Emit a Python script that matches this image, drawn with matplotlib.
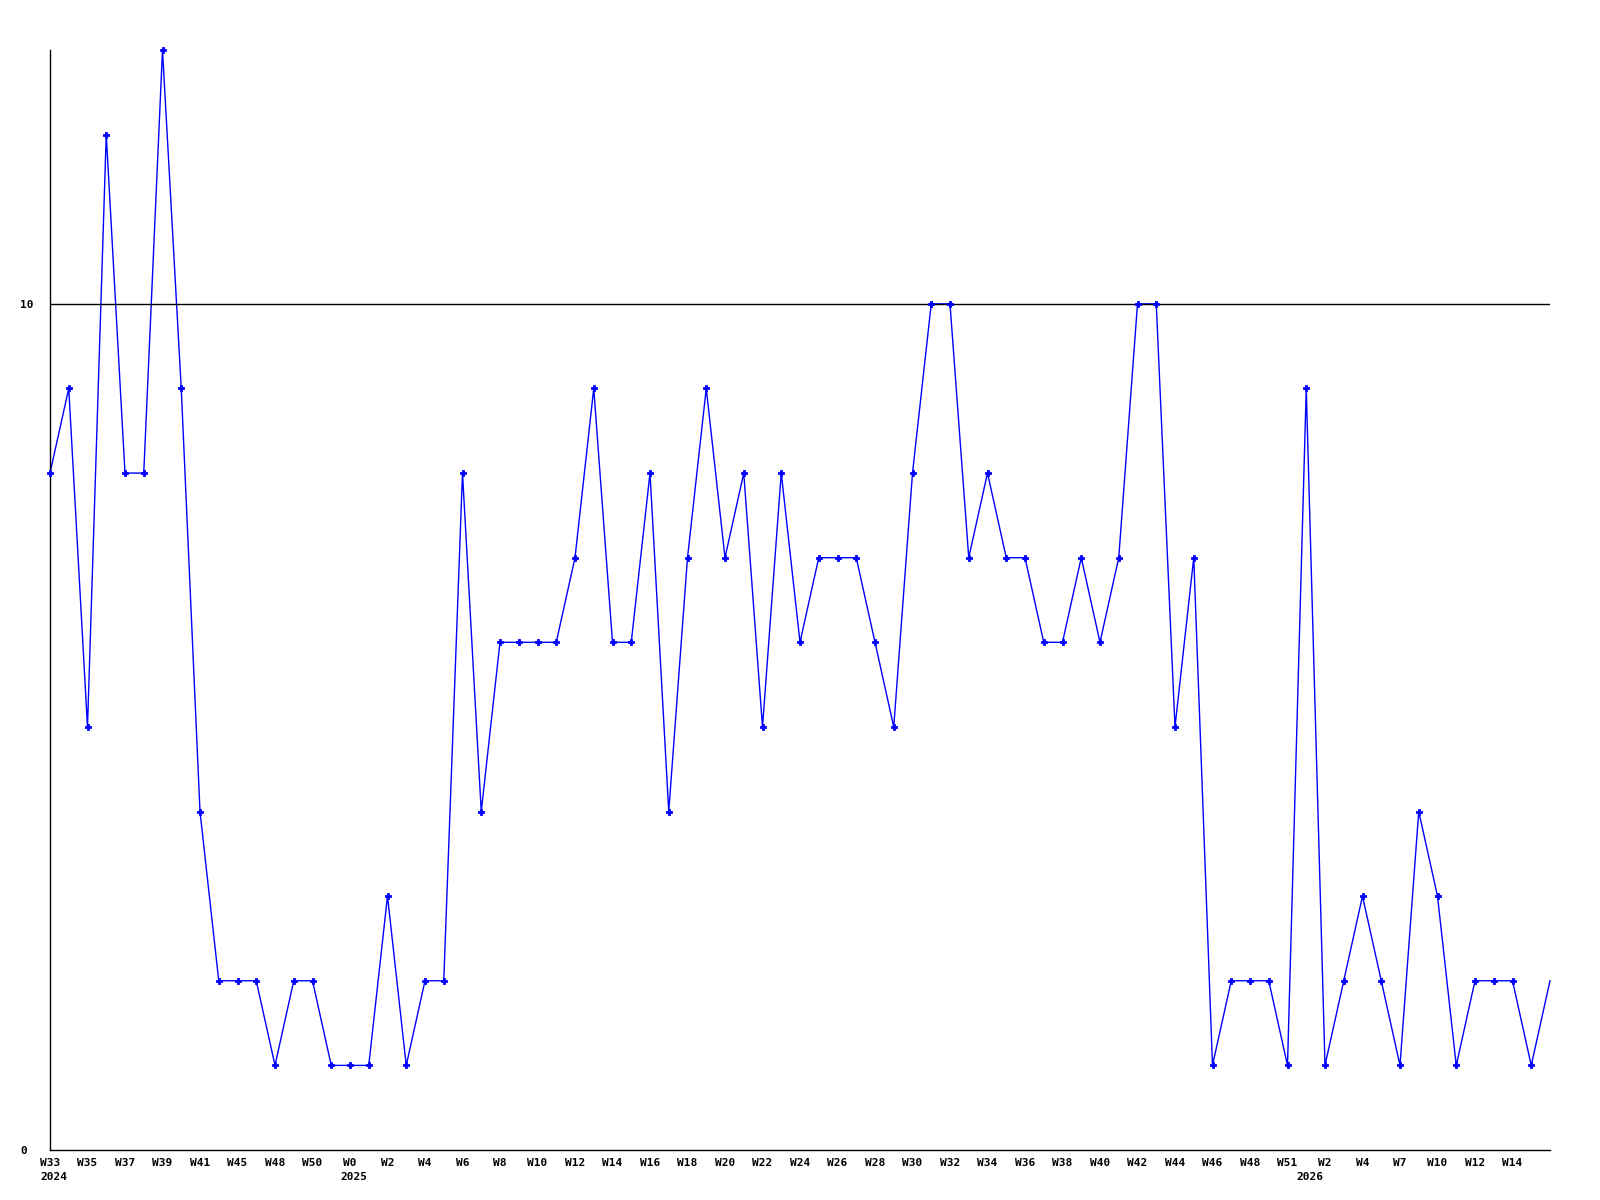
import matplotlib
matplotlib.use("Agg")
import matplotlib.pyplot as plt
import matplotlib.transforms as mtransforms

# weekly counts, W33 2024 .. W16 2026
values = [8, 9, 5, 12, 8, 8, 13, 9, 4, 2,
          2, 2, 1, 2, 2, 1, 1, 1, 3, 1,
          2, 2, 8, 4, 6, 6, 6, 6, 7, 9,
          6, 6, 8, 4, 7, 9, 7, 8, 5, 8,
          6, 7, 7, 7, 6, 5, 8, 10, 10, 7,
          8, 7, 7, 6, 6, 7, 6, 7, 10, 10,
          5, 7, 1, 2, 2, 2, 1, 9, 1, 2,
          3, 2, 1, 4, 3, 1, 2, 2, 2, 1,
          2]

week_labels = ["W33", "W35", "W37", "W39", "W41", "W45", "W48", "W50", "W0", "W2",
               "W4", "W6", "W8", "W10", "W12", "W14", "W16", "W18", "W20", "W22",
               "W24", "W26", "W28", "W30", "W32", "W34", "W36", "W38", "W40", "W42",
               "W44", "W46", "W48", "W51", "W2", "W4", "W7", "W10", "W12", "W14"]
week_pos = list(range(0, 80, 2))

years = ["2024", "2025", "2026"]
year_pos = [0, 16, 67]

y_ticks = [0, 10]

font = dict(family="DejaVu Sans Mono", weight="bold", size=8)

fig = plt.figure(figsize=(16, 12), dpi=100)
ax = fig.add_axes([50 / 1600, 50 / 1200, 1500 / 1600, 1100 / 1200])

x = list(range(len(values)))
ax.plot(x, values, color="#0000ff", linewidth=1, zorder=2, clip_on=False)
# markers on every point but the last one
ax.plot(x[:-1], values[:-1], linestyle="none", marker="P", markersize=4.5,
        markeredgewidth=0.6, color="#0000ff", zorder=4, clip_on=False)

ax.set_xlim(0, len(values) - 1)
ax.set_ylim(0, 13)

ax.spines["top"].set_visible(False)
ax.spines["right"].set_visible(False)
ax.spines["left"].set_linewidth(1)
ax.spines["bottom"].set_linewidth(1)

ax.axhline(10, color="black", linewidth=1, zorder=3)

ax.set_yticks(y_ticks)
ax.set_yticklabels([str(v) for v in y_ticks], fontdict=font)
for lbl in ax.get_yticklabels():
    lbl.set_horizontalalignment("left")
ax.tick_params(axis="y", length=0, pad=21.5)

ax.set_xticks(week_pos)
ax.set_xticklabels(week_labels, fontdict=font)
ax.tick_params(axis="x", length=0, pad=6)

trans = mtransforms.blended_transform_factory(ax.transData, ax.transAxes)
offset = mtransforms.ScaledTranslation(3.5 / 100, 0, fig.dpi_scale_trans)
for yr, p in zip(years, year_pos):
    ax.text(p, -27 / 1100, yr, transform=trans + offset, ha="center", va="center", **font)

fig.savefig("out.png", dpi=100)
